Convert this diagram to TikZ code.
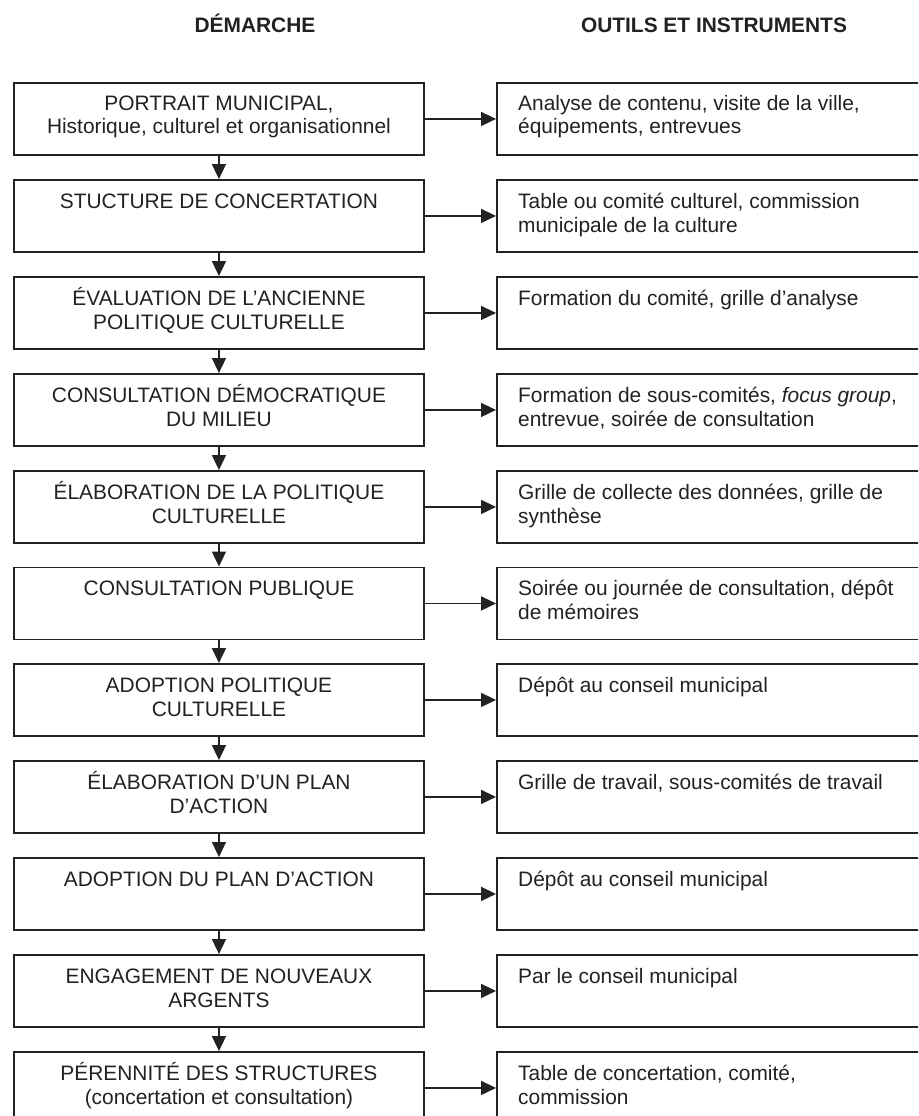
\documentclass[tikz,border=0pt]{standalone}
\usepackage{fontspec}
\setmainfont{Liberation Sans}
\usetikzlibrary{arrows.meta}
\definecolor{ink}{HTML}{222222}
\begin{document}
\begin{tikzpicture}[x=1pt,y=-1pt,
  box/.style={draw=ink, line width=1.9pt, minimum width=410pt, minimum height=72pt, inner sep=0pt, anchor=north west},
  rbox/.style={box, minimum width=450pt},
  txt/.style={font=\fontsize{20.9}{24}\selectfont, text=ink, inner sep=0pt, anchor=base},
  ltxt/.style={txt, anchor=base west},
  head/.style={font=\bfseries\fontsize{20.9}{24}\selectfont, text=ink, inner sep=0pt, anchor=base},
  arr/.style={draw=ink, line width=1.7pt, -{Triangle[length=15pt,width=14pt]}}]
\useasboundingbox (0,0) rectangle (918,1116);
\clip (0,0) rectangle (918,1116);
\fill[white] (0,0) rectangle (918,1116);

\node[head] (H1) at (255,33) {DÉMARCHE};
\node[head] (H2) at (714,33) {OUTILS ET INSTRUMENTS};

% boxes
\node[box] (L1) at (13,82) {};     \node[rbox] (R1) at (496,82) {};
\node[box] (L2) at (13,179) {};    \node[rbox] (R2) at (496,179) {};
\node[box] (L3) at (13,276) {};    \node[rbox] (R3) at (496,276) {};
\node[box] (L4) at (13,373) {};    \node[rbox] (R4) at (496,373) {};
\node[box] (L5) at (13,470) {};    \node[rbox] (R5) at (496,470) {};
\node[box] (L6) at (13,566.5) {};  \node[rbox] (R6) at (496,566.5) {};
\node[box] (L7) at (13,663) {};    \node[rbox] (R7) at (496,663) {};
\node[box] (L8) at (13,760) {};    \node[rbox] (R8) at (496,760) {};
\node[box] (L9) at (13,857) {};    \node[rbox] (R9) at (496,857) {};
\node[box] (L10) at (13,954) {};   \node[rbox] (R10) at (496,954) {};
\node[box] (L11) at (13,1051) {};  \node[rbox] (R11) at (496,1051) {};

% left texts
\node[txt] (L1t) at ([yshift=-28pt]L1.north) {\begin{tabular}[t]{@{}c@{}}PORTRAIT MUNICIPAL,\\Historique, culturel et organisationnel\end{tabular}};
\node[txt] (L2t) at ([yshift=-29pt]L2.north) {STUCTURE DE CONCERTATION};
\node[txt] (L3t) at ([yshift=-29pt]L3.north) {\begin{tabular}[t]{@{}c@{}}ÉVALUATION DE L’ANCIENNE\\POLITIQUE CULTURELLE\end{tabular}};
\node[txt] (L4t) at ([yshift=-29pt]L4.north) {\begin{tabular}[t]{@{}c@{}}CONSULTATION DÉMOCRATIQUE\\DU MILIEU\end{tabular}};
\node[txt] (L5t) at ([yshift=-29pt]L5.north) {\begin{tabular}[t]{@{}c@{}}ÉLABORATION DE LA POLITIQUE\\CULTURELLE\end{tabular}};
\node[txt] (L6t) at ([yshift=-29pt]L6.north) {CONSULTATION PUBLIQUE};
\node[txt] (L7t) at ([yshift=-29pt]L7.north) {\begin{tabular}[t]{@{}c@{}}ADOPTION POLITIQUE\\CULTURELLE\end{tabular}};
\node[txt] (L8t) at ([yshift=-29pt]L8.north) {\begin{tabular}[t]{@{}c@{}}ÉLABORATION D'UN PLAN\\D'ACTION\end{tabular}};
\node[txt] (L9t) at ([yshift=-29pt]L9.north) {ADOPTION DU PLAN D’ACTION};
\node[txt] (L10t) at ([yshift=-29pt]L10.north) {\begin{tabular}[t]{@{}c@{}}ENGAGEMENT DE NOUVEAUX\\ARGENTS\end{tabular}};
\node[txt] (L11t) at ([yshift=-29pt]L11.north) {\begin{tabular}[t]{@{}c@{}}PÉRENNITÉ DES STRUCTURES\\(concertation et consultation)\end{tabular}};

% right texts
\node[ltxt] (R1t) at ([xshift=22pt,yshift=-28pt]R1.north west) {\begin{tabular}[t]{@{}l@{}}Analyse de contenu, visite de la ville,\\équipements, entrevues\end{tabular}};
\node[ltxt] (R2t) at ([xshift=22pt,yshift=-29pt]R2.north west) {\begin{tabular}[t]{@{}l@{}}Table ou comité culturel, commission\\municipale de la culture\end{tabular}};
\node[ltxt] (R3t) at ([xshift=22pt,yshift=-29pt]R3.north west) {Formation du comité, grille d’analyse};
\node[ltxt] (R4t) at ([xshift=22pt,yshift=-29pt]R4.north west) {\begin{tabular}[t]{@{}l@{}}Formation de sous-comités, \textit{focus group},\\entrevue, soirée de consultation\end{tabular}};
\node[ltxt] (R5t) at ([xshift=22pt,yshift=-29pt]R5.north west) {\begin{tabular}[t]{@{}l@{}}Grille de collecte des données, grille de\\synthèse\end{tabular}};
\node[ltxt] (R6t) at ([xshift=22pt,yshift=-29pt]R6.north west) {\begin{tabular}[t]{@{}l@{}}Soirée ou journée de consultation, dépôt\\de mémoires\end{tabular}};
\node[ltxt] (R7t) at ([xshift=22pt,yshift=-29pt]R7.north west) {Dépôt au conseil municipal};
\node[ltxt] (R8t) at ([xshift=22pt,yshift=-29pt]R8.north west) {Grille de travail, sous-comités de travail};
\node[ltxt] (R9t) at ([xshift=22pt,yshift=-29pt]R9.north west) {Dépôt au conseil municipal};
\node[ltxt] (R10t) at ([xshift=22pt,yshift=-29pt]R10.north west) {Par le conseil municipal};
\node[ltxt] (R11t) at ([xshift=22pt,yshift=-29pt]R11.north west) {\begin{tabular}[t]{@{}l@{}}Table de concertation, comité,\\commission\end{tabular}};

% arrows
\foreach \i in {1,...,11} {\draw[arr] (L\i.east) -- (R\i.west);}
\foreach \i/\j in {1/2,2/3,3/4,4/5,5/6,6/7,7/8,8/9,9/10,10/11} {\draw[arr] (L\i.south) -- (L\j.north);}
\end{tikzpicture}
\end{document}
